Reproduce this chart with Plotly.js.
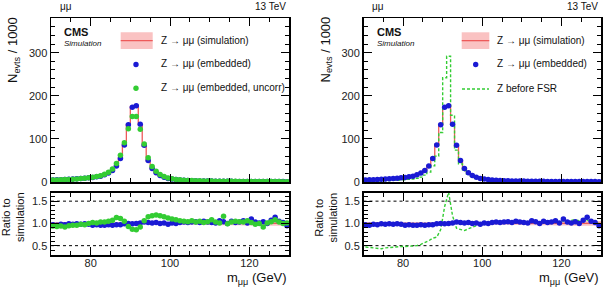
<!DOCTYPE html>
<html>
<head>
<meta charset="utf-8">
<script src="https://cdn.plot.ly/plotly-3.0.1.min.js"></script>
<style>
html,body{margin:0;padding:0;background:#fff;}
#chart{width:609px;height:287px;}
</style>
</head>
<body>
<div id="chart"></div>
<script>
// Dimuon invariant mass, 1 GeV bins (bin centres, GeV)
const massBins = [70.5,71.5,72.5,73.5,74.5,75.5,76.5,77.5,78.5,79.5,
  80.5,81.5,82.5,83.5,84.5,85.5,86.5,87.5,88.5,89.5,
  90.5,91.5,92.5,93.5,94.5,95.5,96.5,97.5,98.5,99.5,
  100.5,101.5,102.5,103.5,104.5,105.5,106.5,107.5,108.5,109.5,
  110.5,111.5,112.5,113.5,114.5,115.5,116.5,117.5,118.5,119.5,
  120.5,121.5,122.5,123.5,124.5,125.5,126.5,127.5,128.5,129.5];

// Events / 1000
const simCounts = [5.0,5.3,5.6,6.0,6.4,6.9,7.4,8.1,8.9,9.9,
  11.0,12.4,14.2,17.5,21.5,28,38,56,87,133,
  175,177,133,83,49,31,21,15,11,8.5,
  6.8,5.6,4.7,4.0,3.5,3.1,2.8,2.55,2.35,2.15,
  2.0,1.85,1.75,1.65,1.55,1.47,1.4,1.33,1.27,1.21,
  1.16,1.11,1.07,1.03,0.99,0.95,0.92,0.89,0.86,0.83];

// Relative statistical uncertainty of the simulation
const simRelUnc = [0.03,0.03,0.03,0.03,0.028,0.028,0.027,0.026,0.025,0.024,
  0.023,0.022,0.021,0.02,0.018,0.016,0.014,0.012,0.01,0.008,
  0.007,0.007,0.008,0.01,0.012,0.015,0.017,0.019,0.021,0.023,
  0.025,0.027,0.028,0.03,0.031,0.032,0.033,0.034,0.035,0.036,
  0.037,0.038,0.039,0.04,0.041,0.042,0.043,0.044,0.045,0.046,
  0.047,0.048,0.049,0.05,0.051,0.052,0.053,0.054,0.055,0.056];

const embCounts = [4.85,5.09,5.49,5.82,6.34,6.76,7.33,7.94,8.81,9.70,
  10.56,12.03,13.63,16.8,20.86,26.88,36.86,54.32,86.13,133,
  173.25,177,134.3,85.5,50,31.3,21.4,15,11.1,8.33,
  6.87,5.6,4.79,4.12,3.57,3.19,2.91,2.6,2.47,2.21,
  2.04,1.87,1.86,1.72,1.55,1.54,1.43,1.37,1.35,1.22,
  1.28,1.14,1.08,1.07,0.99,1.02,1.05,0.93,0.88,0.79];

const uncorrCounts = [4.7,4.93,5.26,5.52,6.08,6.62,7.1,7.94,8.63,9.9,
  11.22,12.52,14.63,18.03,22.58,29.96,42.94,62.16,91.35,123.7,
  152.3,152.2,122.4,88,56.35,36.27,24.99,17.55,12.65,9.52,
  7.48,6.05,4.98,4.2,3.64,3.29,2.88,2.68,2.4,2.24,
  2.16,1.91,1.77,1.91,1.53,1.51,1.47,1.38,1.31,1.28,
  1.18,1.09,1.07,0.95,1.0,0.99,0.99,0.92,0.86,0.84];

const fsrCounts = [2.35,2.4,2.5,2.6,2.75,3.1,3.4,3.8,4.2,4.75,
  5.3,6.1,7.0,8.75,11.4,16,23,37.5,60,115,
  242,292,155,74,42,26,18.5,13.8,10.4,8.2,
  6.7,5.6,4.75,4.08,3.6,3.16,2.91,2.63,2.47,2.24,
  2.1,1.9,1.86,1.72,1.6,1.54,1.46,1.41,1.33,1.26,
  1.23,1.17,1.14,1.11,1.05,1.05,0.99,0.92,0.88,0.84];

// Ratios to simulation
const embRatio = [0.97,0.96,0.98,0.97,0.99,0.98,0.99,0.98,0.99,0.98,
  0.96,0.97,0.96,0.96,0.97,0.96,0.97,0.97,0.99,1.00,
  0.99,1.00,1.01,1.03,1.02,1.01,1.02,1.00,1.01,0.98,
  1.01,1.00,1.02,1.03,1.02,1.03,1.04,1.02,1.05,1.03,
  1.02,1.01,1.06,1.04,1.00,1.05,1.02,1.03,1.06,1.01,
  1.10,1.03,1.01,1.04,1.00,1.07,1.14,1.05,1.02,0.95];

const uncorrRatio = [0.94,0.93,0.94,0.92,0.95,0.96,0.96,0.98,0.97,1.00,
  1.02,1.01,1.03,1.03,1.05,1.07,1.13,1.11,1.05,0.93,
  0.87,0.86,0.92,1.06,1.15,1.17,1.19,1.17,1.15,1.12,
  1.10,1.08,1.06,1.05,1.04,1.06,1.03,1.05,1.02,1.04,
  1.08,1.03,1.01,1.16,0.99,1.03,1.05,1.04,1.03,1.06,
  1.02,0.98,1.00,0.92,1.01,1.04,1.08,1.03,1.00,1.01];

const fsrRatio = [0.47,0.46,0.45,0.44,0.43,0.45,0.46,0.47,0.47,0.48,
  0.48,0.49,0.49,0.50,0.53,0.57,0.61,0.67,0.69,0.86,
  1.38,1.70,1.17,0.89,0.86,0.84,0.88,0.92,0.95,0.97,
  0.99,1.00,1.01,1.02,1.03,1.02,1.04,1.03,1.05,1.04,
  1.05,1.03,1.06,1.04,1.03,1.05,1.04,1.06,1.05,1.04,
  1.06,1.05,1.07,1.08,1.06,1.10,1.08,1.03,1.02,1.01];

const legendLeft = ['Z \u2192 \u03bc\u03bc (simulation)', 'Z \u2192 \u03bc\u03bc (embedded)', 'Z \u2192 \u03bc\u03bc (embedded, uncorr)'];
const legendRight = ['Z \u2192 \u03bc\u03bc (simulation)', 'Z \u2192 \u03bc\u03bc (embedded)', 'Z before FSR'];

// ---- styling ----
const W = 609, H = 287;
const PX = x => x / W;
const PY = y => 1 - y / H;
const FONT = 'Liberation Sans, Arial, Helvetica, sans-serif';
const RED = '#ee5a5a';
const BAND = 'rgba(245,120,120,0.45)';
const BLUE = '#1a1ad4';
const GREEN = '#33cc33';

// step-histogram helpers
const lastBin = massBins.length - 1;
const edges = massBins.map(c => c - 0.5).concat([massBins[lastBin] + 0.5]);
const stepY = arr => arr.concat([arr[lastBin]]);

function simBandTraces(xa, ya, lo, hi) {
  return [
    {x: edges, y: stepY(lo), xaxis: xa, yaxis: ya, type: 'scatter', mode: 'lines',
     line: {shape: 'hv', width: 0, color: BAND}, hoverinfo: 'skip'},
    {x: edges, y: stepY(hi), xaxis: xa, yaxis: ya, type: 'scatter', mode: 'lines',
     line: {shape: 'hv', width: 0, color: BAND}, fill: 'tonexty', fillcolor: BAND, hoverinfo: 'skip'}
  ];
}
const simLo = simCounts.map((v, i) => v * (1 - simRelUnc[i]));
const simHi = simCounts.map((v, i) => v * (1 + simRelUnc[i]));
const rLo = simRelUnc.map(u => 1 - u);
const rHi = simRelUnc.map(u => 1 + u);

function simLine(xa, ya, vals) {
  return {x: edges, y: stepY(vals), xaxis: xa, yaxis: ya, type: 'scatter', mode: 'lines',
          line: {shape: 'hv', width: 1.3, color: RED}};
}
function points(xa, ya, vals, color) {
  return {x: massBins, y: vals, xaxis: xa, yaxis: ya, type: 'scatter', mode: 'markers',
          marker: {size: 5.5, color: color, line: {width: 0}}, cliponaxis: true};
}
const ones = massBins.map(() => 1);

const traces = [
  // left: main
  ...simBandTraces('x', 'y', simLo, simHi),
  simLine('x', 'y', simCounts),
  points('x', 'y', embCounts, BLUE),
  points('x', 'y', uncorrCounts, GREEN),
  // left: ratio
  ...simBandTraces('x2', 'y2', rLo, rHi),
  simLine('x2', 'y2', ones),
  points('x2', 'y2', embRatio, BLUE),
  points('x2', 'y2', uncorrRatio, GREEN),
  // right: main
  ...simBandTraces('x3', 'y3', simLo, simHi),
  simLine('x3', 'y3', simCounts),
  {x: edges, y: stepY(fsrCounts), xaxis: 'x3', yaxis: 'y3', type: 'scatter', mode: 'lines',
   line: {shape: 'hv', width: 1.4, color: GREEN, dash: '3px,2px'}},
  points('x3', 'y3', embCounts, BLUE),
  // right: ratio
  ...simBandTraces('x4', 'y4', rLo, rHi),
  simLine('x4', 'y4', ones),
  {x: massBins, y: fsrRatio, xaxis: 'x4', yaxis: 'y4', type: 'scatter', mode: 'lines',
   line: {width: 1.4, color: GREEN, dash: '3px,2px'}},
  points('x4', 'y4', embRatio, BLUE)
];

const tickFont = {family: FONT, size: 11, color: '#222'};
function xAxis(domain, anchor, labels) {
  return {
    domain: domain, anchor: anchor, range: [70, 130],
    tickmode: 'array', tickvals: [80, 100, 120], ticktext: ['80', '100', '120'],
    showticklabels: labels, ticks: 'inside', ticklen: 8, tickwidth: 1, tickcolor: '#000',
    ticklabelstandoff: -3,
    minor: {dtick: 5, tick0: 70, ticks: 'inside', ticklen: 4, tickwidth: 1, tickcolor: '#000'},
    showline: true, linecolor: '#000', linewidth: 1.5, mirror: 'allticks',
    showgrid: false, zeroline: false, tickfont: tickFont, fixedrange: true
  };
}
function yMain(domain, anchor) {
  return {
    domain: domain, anchor: anchor, range: [0, 380], tick0: 0, dtick: 100,
    ticks: 'inside', ticklen: 8, tickwidth: 1, tickcolor: '#000',
    minor: {dtick: 20, ticks: 'inside', ticklen: 4, tickwidth: 1, tickcolor: '#000'},
    showline: true, linecolor: '#000', linewidth: 1.5, mirror: 'allticks',
    showgrid: false, zeroline: false, tickfont: tickFont, fixedrange: true
  };
}
function yRatio(domain, anchor) {
  return {
    domain: domain, anchor: anchor, range: [0.29, 1.69],
    tickmode: 'array', tickvals: [0.5, 1.0, 1.5], ticktext: ['0.5', '1.0', '1.5'],
    ticks: 'inside', ticklen: 8, tickwidth: 1, tickcolor: '#000',
    minor: {tickmode: 'array', tickvals: [0.3,0.4,0.6,0.7,0.8,0.9,1.1,1.2,1.3,1.4,1.6], ticks: 'inside', ticklen: 4, tickwidth: 1, tickcolor: '#000'},
    showline: true, linecolor: '#000', linewidth: 1.5, mirror: 'allticks',
    showgrid: false, zeroline: false, tickfont: tickFont, fixedrange: true
  };
}

const leftX = [PX(51), PX(289)];
const rightX = [PX(363.5), PX(601)];
const mainY = [PY(182), PY(18.3)];
const ratioY = [PY(255), PY(192.7)];

// dotted reference lines in the ratio panels
const shapes = [];
[['x2', 'y2'], ['x4', 'y4']].forEach(([xa, ya]) => {
  [0.5, 1.0, 1.5].forEach(v => {
    shapes.push({type: 'line', xref: xa, yref: ya, x0: 70, x1: 130, y0: v, y1: v,
                 layer: 'below', line: {color: '#000', width: 1, dash: 'dot'}});
  });
});

// legend symbols (paper coordinates)
function bandSymbol(x0, x1, y0, y1) {
  shapes.push({type: 'rect', xref: 'paper', yref: 'paper', x0: PX(x0), x1: PX(x1), y0: PY(y1), y1: PY(y0),
               fillcolor: BAND, line: {width: 0}});
  const ym = (y0 + y1) / 2;
  shapes.push({type: 'line', xref: 'paper', yref: 'paper', x0: PX(x0), x1: PX(x1), y0: PY(ym), y1: PY(ym),
               line: {color: RED, width: 1.3}});
}
function dotSymbol(cx, cy, color) {
  shapes.push({type: 'circle', xref: 'paper', yref: 'paper', x0: PX(cx - 2.7), x1: PX(cx + 2.7),
               y0: PY(cy + 2.7), y1: PY(cy - 2.7), fillcolor: color, line: {width: 0}});
}
bandSymbol(120.7, 152.7, 32.3, 49);
dotSymbol(136, 64.5, BLUE);
dotSymbol(136, 88.3, GREEN);
bandSymbol(461.7, 489.3, 32.3, 49);
dotSymbol(475.7, 64.5, BLUE);
shapes.push({type: 'line', xref: 'paper', yref: 'paper', x0: PX(462), x1: PX(489), y0: PY(89), y1: PY(89),
             line: {color: GREEN, width: 1.4, dash: '3px,2px'}});

const annotations = [];
function txt(text, x, y, opts) {
  annotations.push(Object.assign({text: text, x: PX(x), y: PY(y), xref: 'paper', yref: 'paper',
    showarrow: false, xanchor: 'left', yanchor: 'middle',
    font: {family: FONT, size: 10, color: '#111'}}, opts || {}));
}
[[0, 51, 289], [312.5, 363.5, 601]].forEach(([dx, fl, fr]) => {
  txt('\u03bc\u03bc', fl + 6.5, 6);
  txt('13 TeV', fr - 1, 6, {xanchor: 'right'});
  txt('<b>CMS</b>', fl + 11, 32.3, {font: {family: FONT, size: 11, color: '#111'}});
  txt('<i>Simulation</i>', fl + 11, 44, {font: {family: FONT, size: 8, color: '#111'}});
  txt('N<sub>evts</sub> / 1000', fl - 38, 50, {xanchor: 'center', textangle: -90,
      font: {family: FONT, size: 13, color: '#111'}});
  txt('Ratio to<br>simulation', fl - 38.5, 217.5, {xanchor: 'center', textangle: -90,
      font: {family: FONT, size: 11, color: '#111'}});
  txt('m<sub>\u03bc\u03bc</sub> (GeV)', fr, 278, {xanchor: 'right',
      font: {family: FONT, size: 13, color: '#111'}});
});
legendLeft.forEach((t, i) => txt(t, 158.5, [40.7, 63.5, 88][i]));
legendRight.forEach((t, i) => txt(t, 494.5, [40.7, 63.5, 88.5][i]));

const layout = {
  width: W, height: H, margin: {l: 0, r: 0, t: 0, b: 0},
  paper_bgcolor: '#fff', plot_bgcolor: '#fff', showlegend: false,
  font: {family: FONT, size: 11, color: '#222'},
  xaxis: xAxis(leftX, 'y', false), yaxis: yMain(mainY, 'x'),
  xaxis2: xAxis(leftX, 'y2', true), yaxis2: yRatio(ratioY, 'x2'),
  xaxis3: xAxis(rightX, 'y3', false), yaxis3: yMain(mainY, 'x3'),
  xaxis4: xAxis(rightX, 'y4', true), yaxis4: yRatio(ratioY, 'x4'),
  shapes: shapes, annotations: annotations
};

Plotly.newPlot('chart', traces, layout, {staticPlot: true, displayModeBar: false});
</script>
</body>
</html>
